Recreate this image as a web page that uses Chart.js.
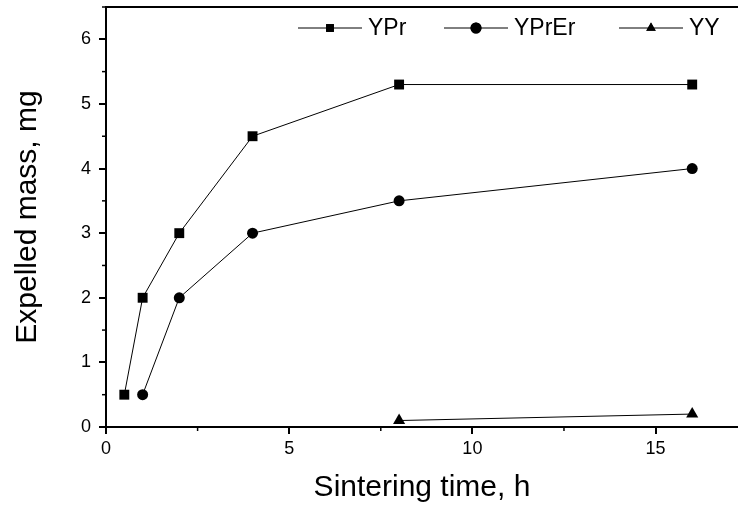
<!DOCTYPE html>
<html>
<head>
<meta charset="utf-8">
<script src="https://cdn.jsdelivr.net/npm/chart.js@4"></script>
<style>
  html, body { margin: 0; padding: 0; background: #fff; }
  #wrap { width: 738px; height: 510px; }
</style>
</head>
<body>
<div id="wrap"><canvas id="chart" width="738" height="510"></canvas></div>
<script>
const FONT = "'Liberation Sans', Arial, sans-serif";

// data
const yprTime = [0.5, 1, 2, 4, 8, 16];
const yprMass = [0.5, 2, 3, 4.5, 5.3, 5.3];
const yprerTime = [1, 2, 4, 8, 16];
const yprerMass = [0.5, 2, 3, 3.5, 4];
const yyTime = [8, 16];
const yyMass = [0.1, 0.2];

const seriesNames = ["YPr", "YPrEr", "YY"];
const markers = ["rect", "circle", "triangle"];
const xMinorTicks = [2.5, 7.5, 12.5];
const yMinorTicks = [0.5, 1.5, 2.5, 3.5, 4.5, 5.5, 6.5];

function pts(xs, ys) {
  return xs.map((x, i) => ({ x: x, y: ys[i] }));
}

// minor ticks, top frame line and the line+marker legend
const extras = {
  id: "extras",
  afterDraw(chart) {
    const ctx = chart.ctx;
    const a = chart.chartArea;
    const xs = chart.scales.x, ys = chart.scales.y;
    ctx.save();
    ctx.strokeStyle = "#000";
    ctx.lineWidth = 2;
    ctx.beginPath();
    ctx.moveTo(a.left - 1, a.top);
    ctx.lineTo(a.right, a.top);
    ctx.stroke();

    ctx.lineWidth = 1.5;
    xMinorTicks.forEach(v => {
      const px = xs.getPixelForValue(v);
      ctx.beginPath();
      ctx.moveTo(px, a.bottom);
      ctx.lineTo(px, a.bottom + 4);
      ctx.stroke();
    });
    yMinorTicks.forEach(v => {
      const py = ys.getPixelForValue(v);
      ctx.beginPath();
      ctx.moveTo(a.left, py);
      ctx.lineTo(a.left - 4, py);
      ctx.stroke();
    });

    // legend
    const lx = [298, 444, 619];
    const ly = 28;
    ctx.font = "23px " + FONT;
    ctx.textBaseline = "middle";
    ctx.fillStyle = "#000";
    seriesNames.forEach((name, i) => {
      ctx.lineWidth = 1;
      ctx.beginPath();
      ctx.moveTo(lx[i], ly);
      ctx.lineTo(lx[i] + 64, ly);
      ctx.stroke();
      Chart.helpers.drawPoint(ctx, { pointStyle: markers[i], radius: 5.5, rotation: 0, borderWidth: 0 }, lx[i] + 32, ly);
      ctx.fill();
      ctx.fillText(name, lx[i] + 70, ly + 1);
    });
    ctx.restore();
  }
};

function ds(label, data, style, r) {
  return {
    label: label,
    data: data,
    showLine: true,
    borderColor: "#000",
    backgroundColor: "#000",
    borderWidth: 1,
    pointStyle: style,
    pointRadius: r,
    pointBorderWidth: 0,
    pointBackgroundColor: "#000",
    tension: 0,
    clip: false
  };
}

new Chart(document.getElementById("chart"), {
  type: "scatter",
  data: {
    datasets: [
      ds(seriesNames[0], pts(yprTime, yprMass), "rect", 7),
      ds(seriesNames[1], pts(yprerTime, yprerMass), "circle", 5.5),
      ds(seriesNames[2], pts(yyTime, yyMass), "triangle", 7)
    ]
  },
  options: {
    responsive: false,
    animation: false,
    layout: { autoPadding: false, padding: { top: 7, right: 0, left: 0, bottom: 0 } },
    plugins: { legend: { display: false }, tooltip: { enabled: false } },
    scales: {
      x: {
        type: "linear",
        min: 0,
        max: 17.25,
        afterFit(s) { s.height = 83; s.paddingLeft = 0; s.paddingRight = 0; },
        border: { display: true, color: "#000", width: 2 },
        grid: { display: true, drawOnChartArea: false, drawTicks: true, tickLength: 7, color: "#000", lineWidth: 2 },
        ticks: { stepSize: 5, includeBounds: false, padding: 4, color: "#000", font: { family: FONT, size: 18 } },
        title: { display: true, text: "Sintering time, h", color: "#000", font: { family: FONT, size: 30 }, padding: { top: 6, bottom: 4 } }
      },
      y: {
        type: "linear",
        min: 0,
        max: 6.5,
        afterFit(s) { s.width = 106; s.paddingTop = 0; s.paddingBottom = 0; },
        border: { display: true, color: "#000", width: 2 },
        grid: { display: true, drawOnChartArea: false, drawTicks: true, tickLength: 7, color: "#000", lineWidth: 2 },
        ticks: { stepSize: 1, includeBounds: false, padding: 8, color: "#000", font: { family: FONT, size: 18 } },
        title: { display: true, text: "Expelled mass, mg", color: "#000", font: { family: FONT, size: 30 }, padding: { top: 10, bottom: 4 } }
      }
    }
  },
  plugins: [extras]
});
</script>
</body>
</html>
